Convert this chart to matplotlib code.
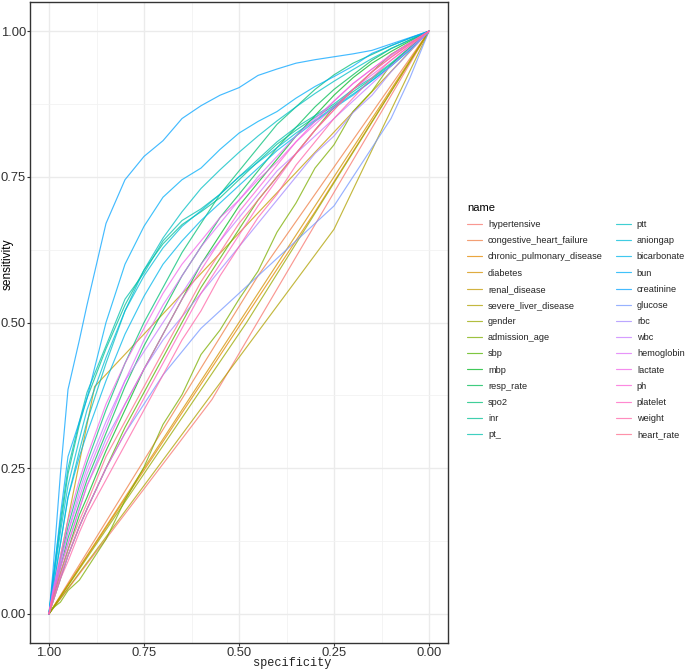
import numpy as np
import matplotlib
matplotlib.use("Agg")
import matplotlib.pyplot as plt
from matplotlib.ticker import FixedLocator

# ---------------- data ----------------
names = ["hypertensive", "congestive_heart_failure", "chronic_pulmonary_disease",
         "diabetes", "renal_disease", "severe_liver_disease", "gender",
         "admission_age", "sbp", "mbp", "resp_rate", "spo2", "inr", "pt_",
         "ptt", "aniongap", "bicarbonate", "bun", "creatinine", "glucose",
         "rbc", "wbc", "hemoglobin", "lactate", "ph", "platelet", "weight",
         "heart_rate"]

# specificity grid shared by the continuous predictors
spec_grid = [1.00, 0.99, 0.97, 0.95, 0.92, 0.90, 0.85, 0.80, 0.75, 0.70, 0.65, 0.60,
             0.55, 0.50, 0.45, 0.40, 0.35, 0.30, 0.25, 0.20, 0.15, 0.10, 0.05, 0.00]

# binary predictors: single operating point (specificity, sensitivity)
hypertensive_pt = (0.571, 0.368)
congestive_heart_failure_pt = (0.45, 0.58)
chronic_pulmonary_disease_pt = (0.30, 0.69)
diabetes_pt = (0.40, 0.60)
renal_disease_pt = (0.88, 0.39)
severe_liver_disease_pt = (0.25, 0.66)
gender_pt = (0.48, 0.50)

# continuous predictors: sensitivity at spec_grid
admission_age = [0, .01, .02, .04, .058, .078, .128, .195, .252, .325, .376, .445, .487, .54, .588, .655, .705, .765, .805, .862, .897, .943, .972, 1]
sbp = [0, .02, .06, .10, .15, .18, .25, .32, .38, .44, .50, .56, .61, .66, .71, .75, .79, .83, .87, .90, .93, .96, .98, 1]
mbp = [0, .025, .07, .11, .17, .20, .28, .35, .42, .48, .54, .60, .65, .70, .74, .78, .82, .855, .89, .92, .945, .965, .983, 1]
resp_rate = [0, .03, .08, .13, .19, .23, .31, .39, .46, .52, .58, .63, .68, .72, .76, .80, .835, .87, .90, .925, .95, .97, .985, 1]
spo2 = [0, .03, .09, .15, .22, .26, .35, .43, .50, .56, .62, .67, .72, .76, .80, .84, .87, .90, .925, .945, .96, .975, .988, 1]
inr = [0, .055, .15, .24, .325, .37, .455, .53, .59, .635, .668, .69, .714, .745, .776, .806, .83, .852, .872, .896, .918, .943, .97, 1]
pt_ = [0, .06, .16, .25, .33, .38, .46, .54, .585, .64, .675, .695, .72, .75, .78, .81, .835, .855, .875, .90, .92, .945, .972, 1]
ptt = [0, .04, .12, .20, .28, .33, .43, .52, .59, .645, .69, .73, .762, .792, .82, .846, .87, .893, .914, .934, .953, .97, .985, 1]
aniongap = [0, .05, .14, .22, .30, .35, .44, .52, .58, .628, .665, .692, .72, .75, .775, .80, .825, .847, .87, .892, .915, .94, .968, 1]
bicarbonate = [0, .04, .12, .20, .27, .31, .40, .48, .545, .60, .64, .675, .705, .735, .765, .795, .82, .845, .868, .89, .915, .94, .968, 1]
bun = [0, .05, .17, .27, .33, .37, .50, .60, .665, .715, .745, .765, .797, .825, .845, .862, .885, .905, .922, .94, .962, .975, .988, 1]
creatinine = [0, .07, .24, .385, .47, .53, .67, .745, .785, .812, .85, .872, .89, .903, .924, .935, .945, .951, .956, .961, .967, .978, .989, 1]
glucose = [0, .02, .06, .10, .15, .18, .25, .31, .36, .41, .45, .49, .52, .55, .58, .61, .64, .67, .70, .75, .80, .85, .92, 1]
rbc = [0, .03, .08, .12, .18, .22, .30, .36, .42, .47, .51, .55, .59, .63, .67, .71, .75, .79, .82, .86, .89, .93, .965, 1]
wbc = [0, .035, .09, .14, .21, .25, .33, .40, .45, .50, .55, .60, .64, .68, .72, .76, .79, .82, .85, .88, .91, .94, .97, 1]
hemoglobin = [0, .035, .09, .14, .20, .24, .32, .40, .47, .53, .58, .63, .67, .71, .75, .785, .82, .85, .88, .91, .935, .958, .98, 1]
lactate = [0, .04, .10, .16, .23, .27, .36, .43, .49, .55, .60, .64, .68, .71, .745, .775, .81, .84, .87, .90, .925, .95, .975, 1]
ph = [0, .03, .08, .12, .18, .22, .29, .36, .42, .48, .54, .59, .64, .69, .73, .77, .81, .845, .88, .91, .935, .96, .98, 1]
platelet = [0, .025, .065, .10, .15, .18, .25, .31, .37, .43, .49, .55, .60, .65, .70, .745, .79, .83, .865, .90, .93, .955, .978, 1]
weight = [0, .02, .06, .09, .14, .17, .23, .29, .35, .41, .47, .52, .58, .63, .68, .72, .77, .81, .85, .885, .92, .95, .975, 1]
heart_rate = [0, .03, .07, .11, .16, .19, .27, .33, .39, .45, .51, .57, .62, .67, .71, .75, .79, .83, .865, .90, .93, .955, .978, 1]

x_ticks = [1.00, 0.75, 0.50, 0.25, 0.00]
x_ticklabels = ["1.00", "0.75", "0.50", "0.25", "0.00"]
y_ticks = [0.00, 0.25, 0.50, 0.75, 1.00]
y_ticklabels = ["0.00", "0.25", "0.50", "0.75", "1.00"]

binary = {"hypertensive": hypertensive_pt,
          "congestive_heart_failure": congestive_heart_failure_pt,
          "chronic_pulmonary_disease": chronic_pulmonary_disease_pt,
          "diabetes": diabetes_pt, "renal_disease": renal_disease_pt,
          "severe_liver_disease": severe_liver_disease_pt, "gender": gender_pt}
continuous = {"admission_age": admission_age, "sbp": sbp, "mbp": mbp,
              "resp_rate": resp_rate, "spo2": spo2, "inr": inr, "pt_": pt_,
              "ptt": ptt, "aniongap": aniongap, "bicarbonate": bicarbonate,
              "bun": bun, "creatinine": creatinine, "glucose": glucose,
              "rbc": rbc, "wbc": wbc, "hemoglobin": hemoglobin,
              "lactate": lactate, "ph": ph, "platelet": platelet,
              "weight": weight, "heart_rate": heart_rate}


# ---------------- ggplot hue palette ----------------
def hcl_to_hex(h, c=100.0, l=65.0):
    Xn, Yn, Zn = 95.047, 100.0, 108.883
    un = 4 * Xn / (Xn + 15 * Yn + 3 * Zn)
    vn = 9 * Yn / (Xn + 15 * Yn + 3 * Zn)
    hr = np.deg2rad(h)
    u = c * np.cos(hr)
    v = c * np.sin(hr)
    Y = Yn * ((l + 16) / 116) ** 3
    up = u / (13 * l) + un
    vp = v / (13 * l) + vn
    X = 9 * Y * up / (4 * vp)
    Z = -X / 3 - 5 * Y + 3 * Y / vp
    M = np.array([[3.2404542, -1.5371385, -0.4985314],
                  [-0.9692660, 1.8760108, 0.0415560],
                  [0.0556434, -0.2040259, 1.0572252]])
    rgb = M @ (np.array([X, Y, Z]) / 100.0)
    rgb = np.where(rgb > 0.0031308, 1.055 * np.clip(rgb, 0, None) ** (1 / 2.4) - 0.055, 12.92 * rgb)
    rgb = np.clip(rgb, 0, 1)
    return "#%02x%02x%02x" % tuple(int(round(x * 255)) for x in rgb)


n = len(names)
hues = np.linspace(15, 375, n + 1)[:-1]
colors = [hcl_to_hex(h) for h in hues]

# ---------------- figure ----------------
W, H = 685, 671
SANS = ["Liberation Sans", "DejaVu Sans"]
fig = plt.figure(figsize=(W / 100, H / 100), dpi=100)
ax = fig.add_axes([30 / W, 1 - 643 / H, (448 - 30) / W, (643 - 2) / H])

for name, col in zip(names, colors):
    if name in binary:
        sp, se = binary[name]
        xs, ys = [1.0, sp, 0.0], [0.0, se, 1.0]
    else:
        xs, ys = spec_grid, continuous[name]
    ax.plot(xs, ys, color=col, lw=0.85, alpha=0.75, label=name,
            solid_joinstyle="round", solid_capstyle="round")

ax.set_xlim(1.05, -0.05)
ax.set_ylim(-0.05, 1.05)
ax.xaxis.set_major_locator(FixedLocator(x_ticks))
ax.set_xticklabels(x_ticklabels)
ax.yaxis.set_major_locator(FixedLocator(y_ticks))
ax.set_yticklabels(y_ticklabels)
ax.xaxis.set_minor_locator(FixedLocator([0.875, 0.625, 0.375, 0.125]))
ax.yaxis.set_minor_locator(FixedLocator([0.125, 0.375, 0.625, 0.875]))
ax.grid(which="major", color="#ebebeb", lw=1.0)
ax.grid(which="minor", color="#f2f2f2", lw=0.6)
ax.set_axisbelow(True)
for s in ax.spines.values():
    s.set_color("#333333")
    s.set_linewidth(1.0)
ax.tick_params(which="major", length=2.2, width=0.8, color="#333333",
               labelsize=9.4, labelcolor="#333333", pad=0.6)
ax.tick_params(which="minor", length=0)
for lab in ax.get_xticklabels() + ax.get_yticklabels():
    lab.set_family(SANS)

fig.text(8 / W, 1 - 264 / H, "sensitivity", rotation=90, ha="center", va="center",
         fontsize=8.6, family=SANS, color="black")
fig.text(292 / W, 1 - 663 / H, "specificity", ha="center", va="center",
         fontsize=8.6, family=["Liberation Mono", "DejaVu Sans Mono"], color="#222222")

handles, labels = ax.get_legend_handles_labels()
leg = fig.legend(handles, labels, ncol=2, loc="upper left",
                 bbox_to_anchor=(467 / W, 1 - 203 / H), frameon=False,
                 title="name", alignment="left",
                 prop={"family": SANS, "size": 6.6},
                 title_fontproperties={"family": SANS, "size": 8},
                 handlelength=1.65, handletextpad=0.65, columnspacing=1.4,
                 labelspacing=0.78, borderpad=0, borderaxespad=0)
for t in leg.get_texts():
    t.set_color("#222222")

fig.savefig("out.png", dpi=100)
